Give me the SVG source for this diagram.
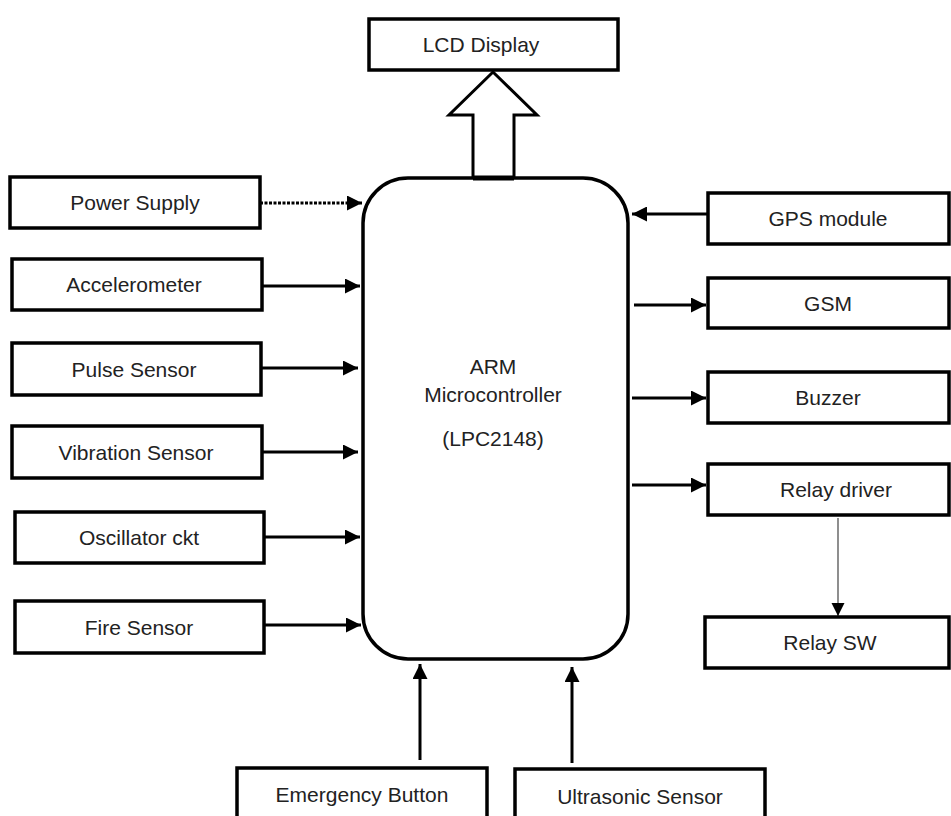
<svg xmlns="http://www.w3.org/2000/svg" width="951" height="816" viewBox="0 0 951 816">
<defs>
<style>
.box{fill:#fff;stroke:#000;stroke-width:3.5}
.t{font-family:"Liberation Sans",Arial,sans-serif;font-size:21px;fill:#222;text-anchor:middle}
.c{stroke:#000;stroke-width:3;fill:none}
.thin{stroke:#444;stroke-width:1.2;fill:none}
</style>
<marker id="ah" viewBox="0 0 10 10" refX="10" refY="5" markerWidth="5" markerHeight="5" orient="auto" markerUnits="strokeWidth">
<path d="M0,0 L10,5 L0,10 Z" fill="#000"/>
</marker>
<marker id="ahs" viewBox="0 0 10 10" refX="10" refY="5" markerWidth="11" markerHeight="11" orient="auto" markerUnits="strokeWidth">
<path d="M0,0 L10,5 L0,10 Z" fill="#000"/>
</marker>
</defs>
<rect width="951" height="816" fill="#fff"/>
<g id="connectors">
<line class="c" x1="260" y1="203" x2="362" y2="203" stroke-dasharray="3,1.5" marker-end="url(#ah)"/>
<line class="c" x1="262" y1="286" x2="360" y2="286" marker-end="url(#ah)"/>
<line class="c" x1="261" y1="368" x2="358" y2="368" marker-end="url(#ah)"/>
<line class="c" x1="262" y1="452" x2="358" y2="452" marker-end="url(#ah)"/>
<line class="c" x1="264" y1="537" x2="360" y2="537" marker-end="url(#ah)"/>
<line class="c" x1="264" y1="625" x2="361" y2="625" marker-end="url(#ah)"/>
<line class="c" x1="707" y1="214" x2="632" y2="214" marker-end="url(#ah)"/>
<line class="c" x1="634" y1="305" x2="706" y2="305" marker-end="url(#ah)"/>
<line class="c" x1="632" y1="398" x2="706" y2="398" marker-end="url(#ah)"/>
<line class="c" x1="632" y1="485" x2="706" y2="485" marker-end="url(#ah)"/>
<line class="thin" x1="838" y1="518" x2="838" y2="616" marker-end="url(#ahs)"/>
<line class="c" x1="420" y1="760" x2="420" y2="664" marker-end="url(#ah)"/>
<line class="c" x1="572" y1="763" x2="572" y2="667" marker-end="url(#ah)"/>
<path d="M473,178 L473,115 L449,115 L493,72 L537,115 L514,115 L514,178" fill="#fff" stroke="#000" stroke-width="3"/>
</g>
<g id="lcd"><rect class="box" x="369" y="19" width="249" height="51"/><text class="t" x="481" y="52">LCD Display</text></g>
<g id="mcu">
<rect class="box" x="363" y="178" width="265" height="481" rx="45" ry="45"/>
<line x1="473" y1="178" x2="514" y2="178" stroke="#000" stroke-width="5"/>
<text class="t" x="493" y="374">ARM</text>
<text class="t" x="493" y="402">Microcontroller</text>
<text class="t" x="493" y="446">(LPC2148)</text>
</g>
<g id="power"><rect class="box" x="10" y="177" width="250" height="51"/><text class="t" x="135" y="210">Power Supply</text></g>
<g id="accel"><rect class="box" x="12" y="259" width="250" height="51"/><text class="t" x="134" y="292">Accelerometer</text></g>
<g id="pulse"><rect class="box" x="12" y="343" width="249" height="52"/><text class="t" x="134" y="377">Pulse Sensor</text></g>
<g id="vib"><rect class="box" x="12" y="426" width="250" height="52"/><text class="t" x="136" y="460">Vibration Sensor</text></g>
<g id="osc"><rect class="box" x="15" y="512" width="249" height="51"/><text class="t" x="139" y="545">Oscillator ckt</text></g>
<g id="fire"><rect class="box" x="15" y="601" width="249" height="52"/><text class="t" x="139" y="635">Fire Sensor</text></g>
<g id="gps"><rect class="box" x="708" y="193" width="241" height="51"/><text class="t" x="828" y="226">GPS module</text></g>
<g id="gsm"><rect class="box" x="708" y="278" width="241" height="50"/><text class="t" x="828" y="311">GSM</text></g>
<g id="buzzer"><rect class="box" x="708" y="372" width="241" height="51"/><text class="t" x="828" y="405">Buzzer</text></g>
<g id="relaydrv"><rect class="box" x="708" y="464" width="241" height="51"/><text class="t" x="836" y="497">Relay driver</text></g>
<g id="relaysw"><rect class="box" x="705" y="617" width="244" height="51"/><text class="t" x="830" y="650">Relay SW</text></g>
<g id="emergency"><rect class="box" x="237" y="768" width="250" height="60"/><text class="t" x="362" y="802">Emergency Button</text></g>
<g id="ultra"><rect class="box" x="515" y="769" width="250" height="60"/><text class="t" x="640" y="804">Ultrasonic Sensor</text></g>
</svg>
